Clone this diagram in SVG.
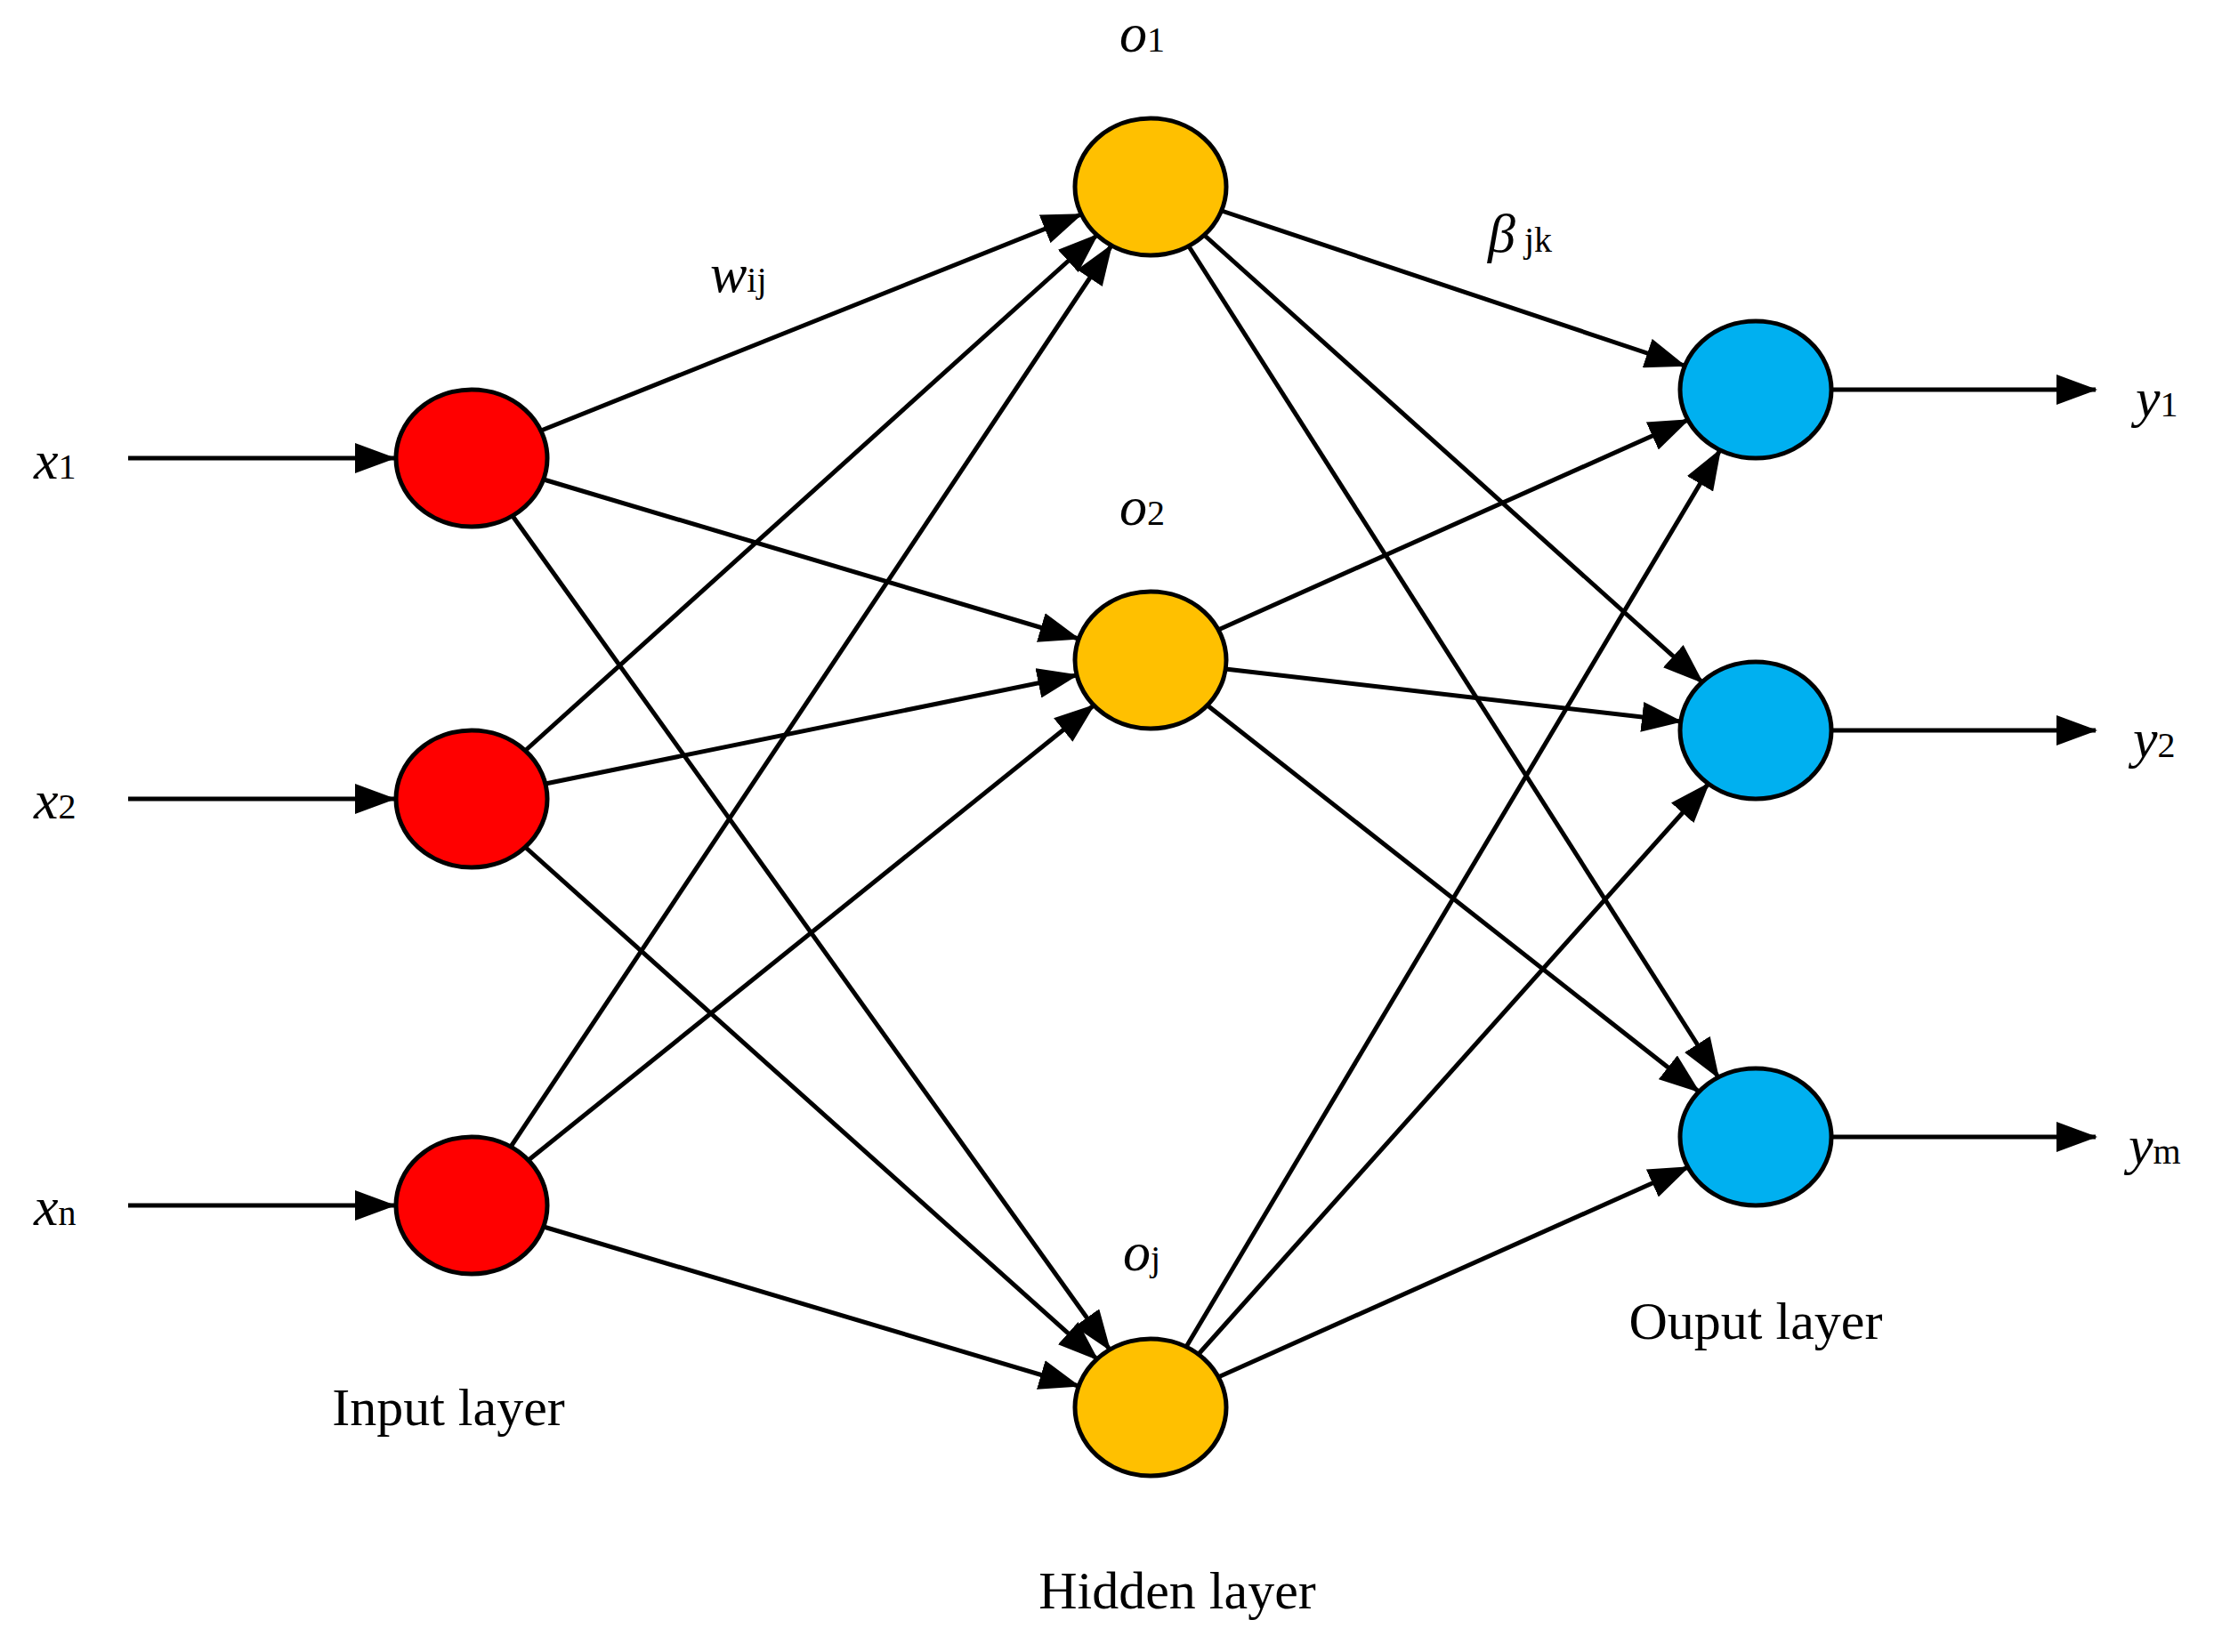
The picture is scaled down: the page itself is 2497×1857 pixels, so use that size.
<svg xmlns="http://www.w3.org/2000/svg" width="2497" height="1857" viewBox="0 0 2497 1857">
<style>
.e{stroke:#000;stroke-width:5;fill:none;marker-end:url(#a)}
.n{stroke:#000;stroke-width:5}
.t{font-family:"Liberation Serif",serif;font-size:60px;fill:#000}
.m{font-family:"Liberation Serif",serif;font-style:italic;font-size:62px;fill:#000}
.s{font-family:"Liberation Serif",serif;font-size:40px;font-style:normal}
</style>
<defs><marker id="a" markerUnits="userSpaceOnUse" markerWidth="46" markerHeight="34" refX="44" refY="17" orient="auto"><path d="M0,0 L46,17 L0,34 Z" fill="#000"/></marker></defs>
<rect width="2497" height="1857" fill="#fff"/>
<g id="connectors">
<line class="e" x1="144" y1="515" x2="443" y2="515"/>
<line class="e" x1="144" y1="898" x2="443" y2="898"/>
<line class="e" x1="144" y1="1355" x2="443" y2="1355"/>
<line class="e" x1="608" y1="484" x2="1215" y2="241"/>
<line class="e" x1="611" y1="539" x2="1212" y2="718"/>
<line class="e" x1="576" y1="580" x2="1247" y2="1517"/>
<line class="e" x1="590" y1="844" x2="1233" y2="264"/>
<line class="e" x1="613" y1="881" x2="1210" y2="759"/>
<line class="e" x1="590" y1="952" x2="1233" y2="1528"/>
<line class="e" x1="574" y1="1289" x2="1249" y2="276"/>
<line class="e" x1="594" y1="1304" x2="1229" y2="793"/>
<line class="e" x1="611" y1="1379" x2="1212" y2="1558"/>
<line class="e" x1="1373" y1="237" x2="1893" y2="411"/>
<line class="e" x1="1353" y1="264" x2="1913" y2="767"/>
<line class="e" x1="1336" y1="277" x2="1931" y2="1211"/>
<line class="e" x1="1369" y1="708" x2="1897" y2="472"/>
<line class="e" x1="1377" y1="752" x2="1889" y2="811"/>
<line class="e" x1="1357" y1="793" x2="1909" y2="1227"/>
<line class="e" x1="1333" y1="1514" x2="1933" y2="506"/>
<line class="e" x1="1347" y1="1522" x2="1920" y2="881"/>
<line class="e" x1="1369" y1="1548" x2="1897" y2="1312"/>
<line class="e" x1="2058" y1="438" x2="2355" y2="438"/>
<line class="e" x1="2058" y1="821" x2="2355" y2="821"/>
<line class="e" x1="2058" y1="1278" x2="2355" y2="1278"/>
</g>
<g id="in1"><ellipse class="n" cx="530" cy="515" rx="85" ry="77" fill="#ff0000"/></g>
<g id="in2"><ellipse class="n" cx="530" cy="898" rx="85" ry="77" fill="#ff0000"/></g>
<g id="in3"><ellipse class="n" cx="530" cy="1355" rx="85" ry="77" fill="#ff0000"/></g>
<g id="h1"><ellipse class="n" cx="1293" cy="210" rx="85" ry="77" fill="#ffc000"/></g>
<g id="h2"><ellipse class="n" cx="1293" cy="742" rx="85" ry="77" fill="#ffc000"/></g>
<g id="h3"><ellipse class="n" cx="1293" cy="1582" rx="85" ry="77" fill="#ffc000"/></g>
<g id="o1"><ellipse class="n" cx="1973" cy="438" rx="85" ry="77" fill="#00b0f0"/></g>
<g id="o2"><ellipse class="n" cx="1973" cy="821" rx="85" ry="77" fill="#00b0f0"/></g>
<g id="o3"><ellipse class="n" cx="1973" cy="1278" rx="85" ry="77" fill="#00b0f0"/></g>
<g id="labels">
<text class="m" x="38" y="538">x<tspan class="s">1</tspan></text>
<text class="m" x="38" y="920">x<tspan class="s">2</tspan></text>
<text class="m" x="38" y="1377">x<tspan class="s" font-style="italic">n</tspan></text>
<text class="m" x="2400" y="468">y<tspan class="s">1</tspan></text>
<text class="m" x="2397" y="851">y<tspan class="s">2</tspan></text>
<text class="m" x="2392" y="1308">y<tspan class="s">m</tspan></text>
<text class="m" x="1258" y="58">o<tspan class="s">1</tspan></text>
<text class="m" x="1258" y="590">o<tspan class="s">2</tspan></text>
<text class="m" x="1262" y="1428">o<tspan class="s">j</tspan></text>
<text class="m" x="798" y="328">w<tspan class="s">ij</tspan></text>
<text class="m" x="1672" y="283">β<tspan class="s"> jk</tspan></text>
<text class="t" x="504" y="1602" text-anchor="middle">Input layer</text>
<text class="t" x="1323" y="1808" text-anchor="middle">Hidden layer</text>
<text class="t" x="1973" y="1505" text-anchor="middle">Ouput layer</text>
</g>
</svg>
